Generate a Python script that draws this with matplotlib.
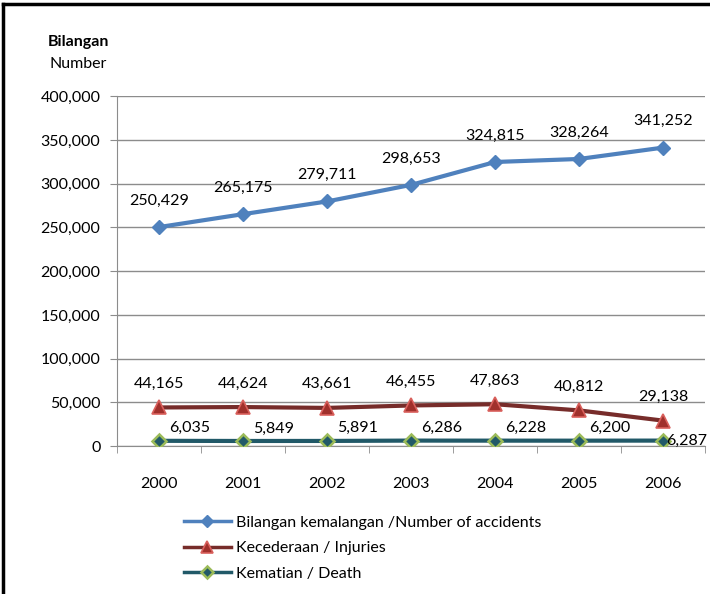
import matplotlib.pyplot as plt
from matplotlib.lines import Line2D

plt.rcParams['font.family'] = ['Lato', 'DejaVu Sans']

years = ['2000', '2001', '2002', '2003', '2004', '2005', '2006']
accidents = [250429, 265175, 279711, 298653, 324815, 328264, 341252]
injuries = [44165, 44624, 43661, 46455, 47863, 40812, 29138]
deaths = [6035, 5849, 5891, 6286, 6228, 6200, 6287]

fig = plt.figure(figsize=(7.1, 5.94), dpi=100)
ax = fig.add_axes([0.165, 0.249, 0.828, 0.589])

x = range(len(years))
ax.plot(x, accidents, color='#4F81BD', lw=3, marker='D', ms=7,
        mfc='#4F81BD', mec='#4F81BD', label='Bilangan kemalangan /Number of accidents', zorder=3)
ax.plot(x, injuries, color='#772C2A', lw=3, marker='^', ms=10,
        mfc='#A0302C', mec='#D9605C', mew=1.2, label='Kecederaan / Injuries', zorder=3)
ax.plot(x, deaths, color='#215968', lw=3, marker='D', ms=7,
        mfc='#215968', mec='#9BBB59', mew=1.8, label='Kematian / Death', zorder=3)

fs = 11.5
for i, v in enumerate(accidents):
    ax.annotate(f'{v:,}', (i, v), xytext=(0, 14), textcoords='offset points',
                ha='center', va='bottom', fontsize=fs)
for i, v in enumerate(injuries):
    ax.annotate(f'{v:,}', (i, v), xytext=(0, 12), textcoords='offset points',
                ha='center', va='bottom', fontsize=fs)
for i, v in enumerate(deaths):
    if i == len(deaths) - 1:
        ax.annotate(f'{v:,}', (i, v), xytext=(2, 0), textcoords='offset points',
                    ha='left', va='center', fontsize=fs)
    else:
        ax.annotate(f'{v:,}', (i, v), xytext=(22, 4), textcoords='offset points',
                    ha='center', va='bottom', fontsize=fs)

ax.set_xlim(-0.5, len(years) - 0.5)
ax.set_ylim(0, 400000)
ax.set_yticks(range(0, 400001, 50000))
ax.set_yticklabels([f'{t:,}' for t in range(0, 400001, 50000)], fontsize=fs)
ax.yaxis.grid(True, color='#8C8C8C', lw=1)
ax.set_axisbelow(True)

ax.set_xticks(list(x))
ax.set_xticklabels(years, fontsize=fs)
ax.set_xticks([i - 0.5 for i in range(len(years) + 1)], minor=True)
ax.tick_params(axis='x', which='major', length=0, pad=22)
ax.tick_params(axis='x', which='minor', length=5, color='#8C8C8C')
ax.tick_params(axis='y', length=5, color='#8C8C8C', pad=7)

for s in ['top', 'right']:
    ax.spines[s].set_visible(False)
for s in ['left', 'bottom']:
    ax.spines[s].set_color('#8C8C8C')

fig.text(0.11, 0.93, 'Bilangan', fontsize=fs, fontweight='bold', ha='center', va='center')
fig.text(0.11, 0.893, 'Number', fontsize=fs, ha='center', va='center')

leg = ax.legend(loc='upper left', bbox_to_anchor=(0.102, -0.181), frameon=False,
                fontsize=fs, handlelength=3.0, labelspacing=0.7, borderaxespad=0,
                handletextpad=0.3, markerscale=0.85)
for h in leg.legend_handles:
    h.set_linewidth(2.5)

# outer chart border (left and top)
fig.add_artist(Line2D([0.004, 0.004], [0, 0.993], color='black', lw=2.5, transform=fig.transFigure))
fig.add_artist(Line2D([0.004, 1.0], [0.993, 0.993], color='black', lw=2.5, transform=fig.transFigure))

fig.savefig('out.png', dpi=100)
